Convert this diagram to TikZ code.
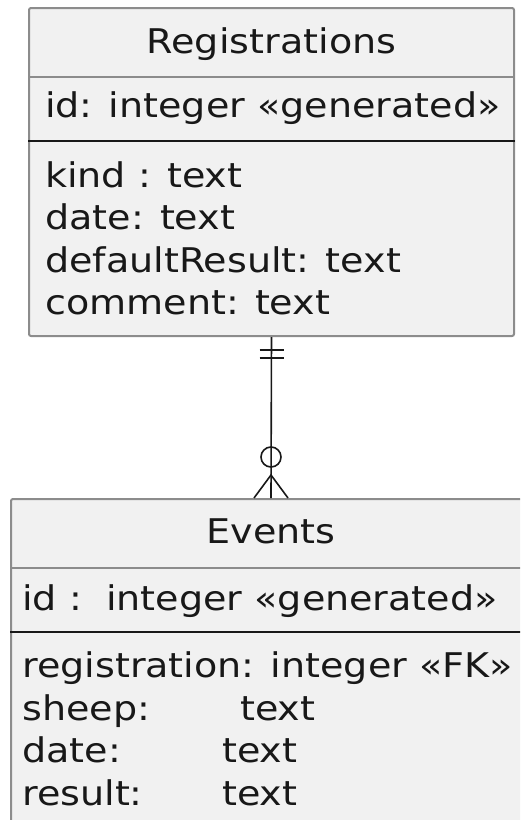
\documentclass[tikz,border=0pt]{standalone}
\usepackage{fontspec}
\setmainfont{DejaVu Sans}[FakeStretch=1.12]
\usetikzlibrary{positioning}
\definecolor{ink}{HTML}{181818}
\definecolor{frame}{HTML}{8C8C8C}
\definecolor{cell}{HTML}{F1F1F1}

\begin{document}
\begin{tikzpicture}[
  x=1pt, y=-1pt,
  font=\fontsize{34}{42}\selectfont,
  entity/.style={draw=frame, fill=cell, line width=2pt, rounded corners=2pt, inner sep=0pt, anchor=north west, minimum height=328pt},
  title/.style={anchor=base, inner sep=0pt, text=ink},
  field/.style={anchor=base west, inner sep=0pt, text=ink},
  divide/.style={frame, line width=2pt},
  keyrule/.style={ink, line width=2.2pt},
  link/.style={ink, line width=1.6pt}
]
  \useasboundingbox (0,0) rectangle (520,820);
  \clip (0,0) rectangle (520,820);

  \node[entity, minimum width=485pt] (reg) at (28,7) {};
  \node[title] (regname) at ([yshift=-46pt]reg.north) {Registrations};
  \draw[divide] ([yshift=-70pt]reg.north west) -- ([yshift=-70pt]reg.north east);
  \node[field] (regid) at ([xshift=17pt,yshift=-110pt]reg.north west) {id: integer «generated»};
  \draw[keyrule] ([yshift=-134pt]reg.north west) -- ([yshift=-134pt]reg.north east);
  \node[field] (regkind) at ([xshift=17pt,yshift=-180pt]reg.north west) {kind : text};
  \node[field] (regdate) at ([xshift=17pt,yshift=-222.5pt]reg.north west) {date: text};
  \node[field] (regresult) at ([xshift=17pt,yshift=-265pt]reg.north west) {defaultResult: text};
  \node[field] (regcomment) at ([xshift=17pt,yshift=-307pt]reg.north west) {comment: text};

  \node[entity, minimum width=520pt] (evt) at (10,498) {};
  \node[title] (evtname) at ([yshift=-45pt]evt.north) {Events};
  \draw[divide] ([yshift=-70pt]evt.north west) -- ([yshift=-70pt]evt.north east);
  \node[field] (evtid) at ([xshift=12pt,yshift=-112pt]evt.north west) {id :\ \ integer «generated»};
  \draw[keyrule] ([yshift=-134pt]evt.north west) -- ([yshift=-134pt]evt.north east);
  \node[field] (evtreg) at ([xshift=12pt,yshift=-179pt]evt.north west) {registration: integer «FK»};
  \node[field] (evtsheep) at ([xshift=12pt,yshift=-222pt]evt.north west) {sheep:};
  \node[field] (evtsheeptype) at ([xshift=230pt,yshift=-222pt]evt.north west) {text};
  \node[field] (evtdate) at ([xshift=12pt,yshift=-264pt]evt.north west) {date:};
  \node[field] (evtdatetype) at ([xshift=212pt,yshift=-264pt]evt.north west) {text};
  \node[field] (evtresult) at ([xshift=12pt,yshift=-307pt]evt.north west) {result:};
  \node[field] (evtresulttype) at ([xshift=212pt,yshift=-307pt]evt.north west) {text};

  \draw[link] (reg.south) -- (evt.north);
  \draw[link] ([xshift=-12pt,yshift=-13pt]reg.south) -- ([xshift=12pt,yshift=-13pt]reg.south);
  \draw[link] ([xshift=-12pt,yshift=-21pt]reg.south) -- ([xshift=12pt,yshift=-21pt]reg.south);
  \draw[link] ([yshift=41pt]evt.north) circle[radius=10pt];
  \draw[link] ([xshift=-17pt]evt.north) -- ([yshift=23pt]evt.north) -- ([xshift=17pt]evt.north);
\end{tikzpicture}
\end{document}
